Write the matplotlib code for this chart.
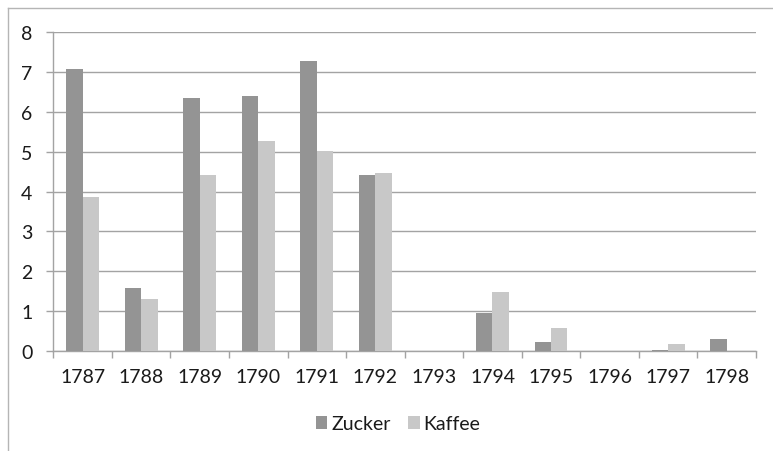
import matplotlib
matplotlib.use("Agg")
import matplotlib.pyplot as plt
import numpy as np

years = ["1787", "1788", "1789", "1790", "1791", "1792",
         "1793", "1794", "1795", "1796", "1797", "1798"]
zucker = [7.09, 1.57, 6.35, 6.41, 7.29, 4.43, 0.0, 0.96, 0.23, 0.0, 0.03, 0.29]
kaffee = [3.87, 1.31, 4.42, 5.28, 5.03, 4.46, 0.0, 1.49, 0.58, 0.0, 0.17, 0.0]
y_ticks = [0, 1, 2, 3, 4, 5, 6, 7, 8]

plt.rcParams["font.family"] = ["Lato", "DejaVu Sans"]

W, H = 773, 452
fig = plt.figure(figsize=(W / 100, H / 100), dpi=100)
fig.patch.set_facecolor("white")

# chart frame (top and left edges visible)
fig.add_artist(plt.Line2D([8 / W, 1.0], [1 - 9 / H, 1 - 9 / H], color="#b5b5b5", lw=1.0))
fig.add_artist(plt.Line2D([8 / W, 8 / W], [0.0, 1 - 9 / H], color="#b5b5b5", lw=1.0))

left, right = 53.3 / W, 756 / W
bottom, top = 1 - 352 / H, 1 - 33.3 / H
ax = fig.add_axes([left, bottom, right - left, top - bottom])

x = np.arange(len(years))
bw = 0.28
c_z = "#949494"
c_k = "#c8c8c8"
ax.bar(x - bw / 2, zucker, width=bw, color=c_z, label="Zucker", zorder=3)
ax.bar(x + bw / 2, kaffee, width=bw, color=c_k, label="Kaffee", zorder=3)

fs = 14
tc = "#1a1a1a"
ax.set_xlim(-0.5, len(years) - 0.5)
ax.set_ylim(0, 8)
ax.set_yticks(y_ticks)
ax.set_yticklabels([str(t) for t in y_ticks], fontsize=fs, color=tc)
ax.yaxis.grid(True, color="#a3a3a3", lw=1.0, zorder=0)
ax.set_axisbelow(True)

ax.set_xticks(x)
ax.set_xticklabels(years, fontsize=fs, color=tc)
ax.set_xticks(np.arange(-0.5, len(years), 1.0), minor=True)
ax.tick_params(axis="x", which="major", length=0, pad=12)
ax.tick_params(axis="x", which="minor", length=5, width=1.0, color="#a3a3a3")
ax.tick_params(axis="y", length=5, width=1.0, color="#a3a3a3", pad=10)

for s in ["top", "right"]:
    ax.spines[s].set_visible(False)
ax.spines["left"].set_color("#a3a3a3")
ax.spines["bottom"].set_color("#a3a3a3")
ax.spines["left"].set_linewidth(1.0)
ax.spines["bottom"].set_linewidth(1.0)

fig.legend(loc="center", bbox_to_anchor=(398 / W, 1 - 425 / H), ncol=2, frameon=False,
           fontsize=fs, handlelength=0.6, handleheight=0.6, handletextpad=0.2,
           columnspacing=0.9, labelcolor=tc, borderpad=0, borderaxespad=0)

fig.savefig("out.png", dpi=100, facecolor="white")
